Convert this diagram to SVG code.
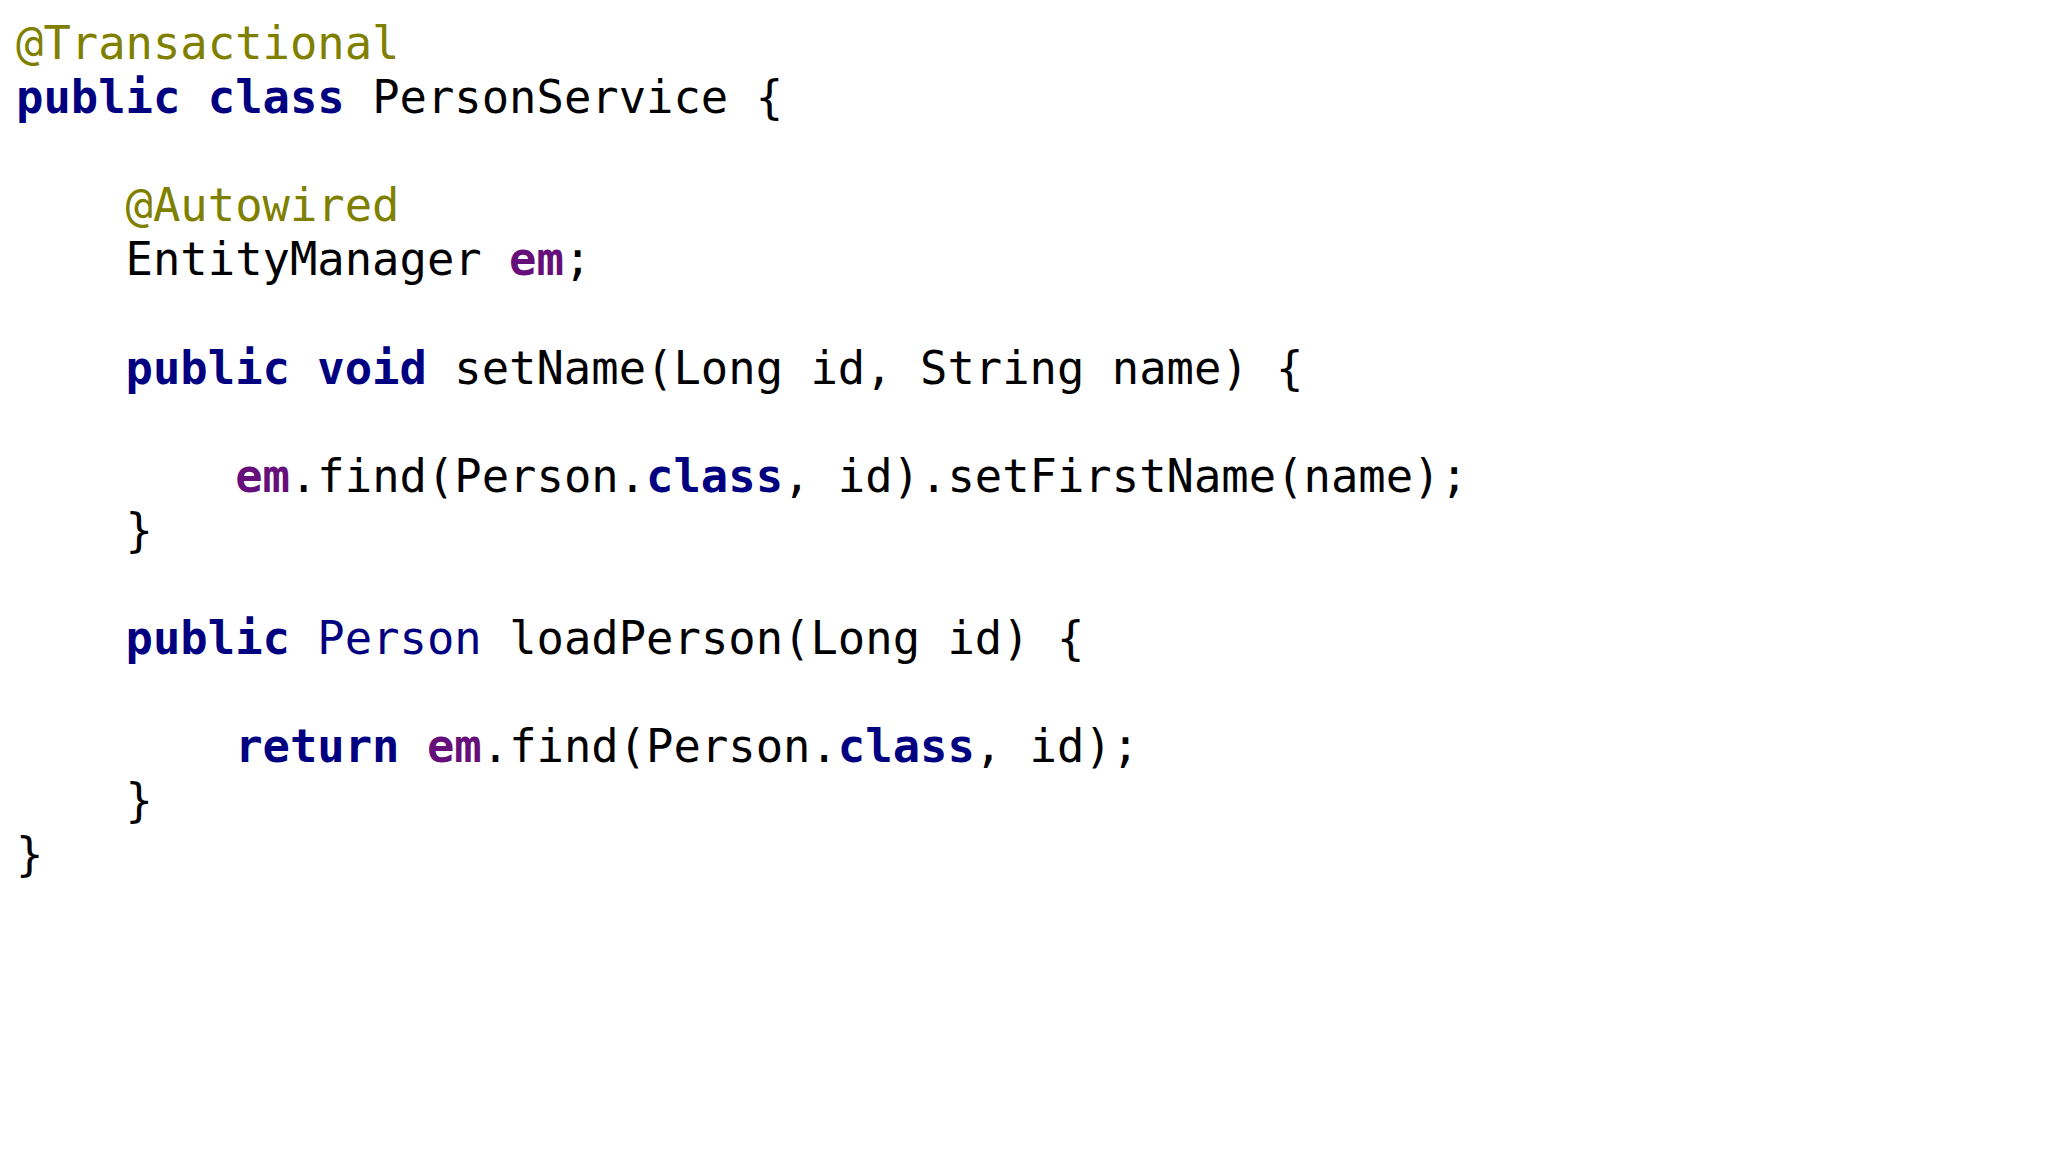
<svg xmlns="http://www.w3.org/2000/svg" width="2048" height="1152" viewBox="0 0 2048 1152">
<style>
text{font-family:"DejaVu Sans Mono","Liberation Mono",monospace;font-size:45.5px;fill:#000;white-space:pre}
.a{fill:#808000}.k{fill:#000080;font-weight:bold}.f{fill:#660e7a;font-weight:bold}.t{fill:#000080}
</style>
<rect width="2048" height="1152" fill="#fff"/>
<g id="code" xml:space="preserve">
<text x="16" y="59"><tspan class="a">@Transactional</tspan></text>
<text x="16" y="113"><tspan class="k">public class</tspan> PersonService {</text>
<text x="16" y="221">    <tspan class="a">@Autowired</tspan></text>
<text x="16" y="275">    EntityManager <tspan class="f">em</tspan>;</text>
<text x="16" y="384">    <tspan class="k">public void</tspan> setName(Long id, String name) {</text>
<text x="16" y="492">        <tspan class="f">em</tspan>.find(Person.<tspan class="k">class</tspan>, id).setFirstName(name);</text>
<text x="16" y="546">    }</text>
<text x="16" y="654">    <tspan class="k">public</tspan> <tspan class="t">Person</tspan> loadPerson(Long id) {</text>
<text x="16" y="762">        <tspan class="k">return</tspan> <tspan class="f">em</tspan>.find(Person.<tspan class="k">class</tspan>, id);</text>
<text x="16" y="816">    }</text>
<text x="16" y="870">}</text>
</g>
</svg>
